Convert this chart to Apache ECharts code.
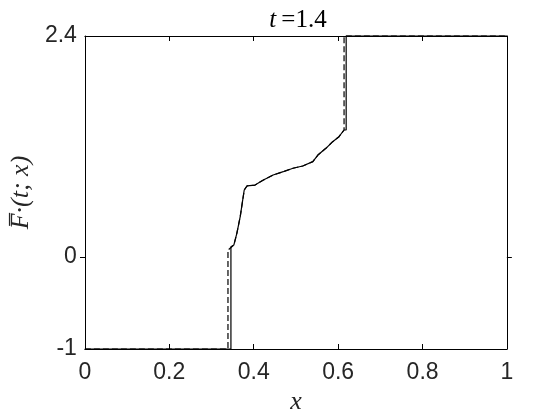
<!DOCTYPE html>
<html>
<head>
<meta charset="utf-8">
<script src="https://cdn.jsdelivr.net/npm/echarts@6/dist/echarts.min.js"></script>
<style>
  html, body { margin: 0; padding: 0; background: #fff; }
  #chart { width: 560px; height: 420px; }
</style>
</head>
<body>
<div id="chart"></div>
<script>
// shared middle part of both curves (x, value)
const midX = [0.353, 0.360, 0.368, 0.3775, 0.384, 0.403, 0.423, 0.446, 0.470, 0.493, 0.516, 0.540, 0.552, 0.571, 0.587, 0.602, 0.614]
const midY = [0.13, 0.257, 0.437, 0.727, 0.771, 0.781, 0.836, 0.89, 0.926, 0.963, 0.988, 1.035, 1.107, 1.18, 1.252, 1.306, 1.379]

// solid curve ends
const solidHeadX = [0, 0.346, 0.346]
const solidHeadY = [-1, -1, 0.111]
const solidTailX = [0.619, 0.619, 1]
const solidTailY = [1.379, 2.4, 2.4]

// dashed curve ends
const dashHeadX = [0, 0.339, 0.339]
const dashHeadY = [-1, -1, 0.075]
const dashTailX = [0.614, 1]
const dashTailY = [2.4, 2.4]

const yTicks = [-1, 0, 2.4]
const innerYTicks = [0]

const zip = (xs, ys) => xs.map((x, i) => [x, ys[i]])
const solidData = zip(solidHeadX, solidHeadY).concat(zip(midX, midY), zip(solidTailX, solidTailY))
const dashData = zip(dashHeadX, dashHeadY).concat(zip(midX, midY), zip(dashTailX, dashTailY))

const tickFont = { fontFamily: 'Liberation Sans', fontSize: 23, color: '#262626' }
const serif = 'Liberation Serif'
const frame = { show: true, onZero: false, lineStyle: { color: '#000', width: 1 } }
const plotW = 427, plotH = 313

// inside ticks don't render, so use extra axes flipped onto the opposite
// side of the frame; their outside ticks then point into the plot
const outTick = { show: true, inside: false, length: 5, lineStyle: { color: '#000', width: 1 } }
const tickOnlyX = (position) => ({
  type: 'value', min: 0, max: 1, interval: 0.2, position, offset: -plotH,
  axisLine: { show: false, onZero: false }, axisTick: outTick,
  splitLine: { show: false }, axisLabel: { show: false }
})
const tickOnlyY = (position) => ({
  type: 'value', min: -1, max: 2.4, position, offset: -plotW,
  axisLine: { show: false, onZero: false },
  axisTick: Object.assign({ customValues: innerYTicks }, outTick),
  splitLine: { show: false }, axisLabel: { show: false }
})

const chart = echarts.init(document.getElementById('chart'))
chart.setOption({
  animation: false,
  title: {
    text: '{i|t} {n|=1.4}',
    left: 293, top: 3, textAlign: 'center',
    textStyle: {
      rich: {
        i: { fontFamily: serif, fontStyle: 'italic', fontWeight: 'normal', fontSize: 25, color: '#000' },
        n: { fontFamily: serif, fontWeight: 'normal', fontSize: 25, color: '#000' }
      }
    }
  },
  grid: { left: 80, right: 53, top: 36, bottom: 71 },
  xAxis: [
    {
      type: 'value', min: 0, max: 1, interval: 0.2,
      name: 'x', nameLocation: 'middle', nameGap: 40,
      nameTextStyle: { fontFamily: serif, fontStyle: 'italic', fontSize: 26, color: '#262626' },
      axisLine: frame,
      axisTick: { show: false },
      splitLine: { show: false },
      axisLabel: Object.assign({ margin: 12, formatter: v => String(+v.toFixed(1)) }, tickFont)
    },
    {
      type: 'value', min: 0, max: 1, interval: 0.2, position: 'top',
      axisLine: frame,
      axisTick: { show: false },
      splitLine: { show: false },
      axisLabel: { show: false }
    },
    tickOnlyX('top'),
    tickOnlyX('bottom')
  ],
  yAxis: [
    {
      type: 'value', min: -1, max: 2.4,
      name: 'F\u0305\u00b7(t; x)', nameLocation: 'middle', nameGap: 46, nameRotate: 90,
      nameTextStyle: { fontFamily: serif, fontStyle: 'italic', fontSize: 26, color: '#262626' },
      axisLine: frame,
      axisTick: { show: false },
      splitLine: { show: false },
      axisLabel: Object.assign({ margin: 8, customValues: yTicks }, tickFont)
    },
    {
      type: 'value', min: -1, max: 2.4, position: 'right',
      axisLine: frame,
      axisTick: { show: false },
      splitLine: { show: false },
      axisLabel: { show: false }
    },
    tickOnlyY('right'),
    tickOnlyY('left')
  ],
  series: [
    {
      type: 'line', data: dashData, symbol: 'none', clip: false,
      lineStyle: { color: '#000', width: 1.2, type: [6, 3] }
    },
    {
      type: 'line', data: solidData, symbol: 'none', clip: false,
      lineStyle: { color: '#000', width: 1.2 }
    }
  ]
})
</script>
</body>
</html>
